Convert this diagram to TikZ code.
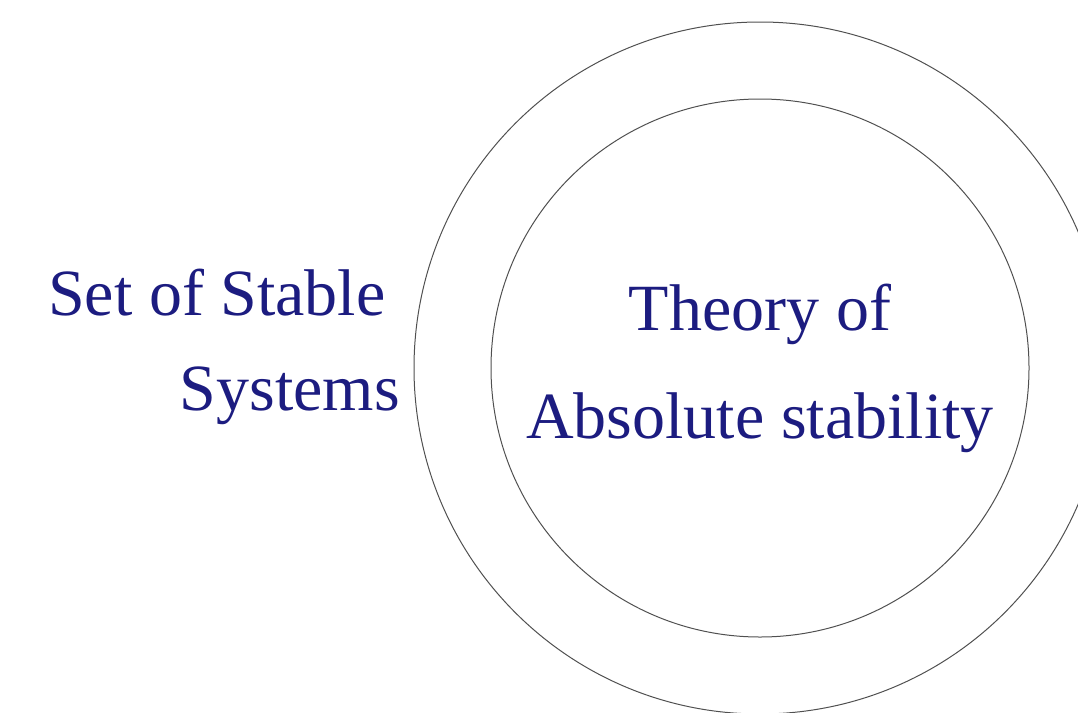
\documentclass[tikz,border=0pt]{standalone}
\usepackage{fontspec}
\setmainfont{Liberation Serif}
\definecolor{txtblue}{RGB}{28,28,128}
\definecolor{ringgray}{RGB}{80,80,80}
\begin{document}
\begin{tikzpicture}[x=1pt,y=-1pt,
  lbl/.style={text=txtblue,font=\fontsize{66}{72}\selectfont,inner sep=0pt},
  ring/.style={draw=ringgray,line width=1pt}]
\useasboundingbox (0,0) rectangle (1078,712);
\clip (0,0) rectangle (1078,712);
\coordinate (c) at (760,368);
\draw[ring] (c) circle[radius=346];
\draw[ring] (c) circle[radius=269];
\node[lbl,anchor=base west] (set) at (48,315) {Set of Stable};
\node[lbl,anchor=base east] (sys) at (400,410) {Systems};
\node[lbl,anchor=base] (theory) at (760,330) {Theory of};
\node[lbl,anchor=base] (abs) at (760,438) {Absolute stability};
\end{tikzpicture}
\end{document}
